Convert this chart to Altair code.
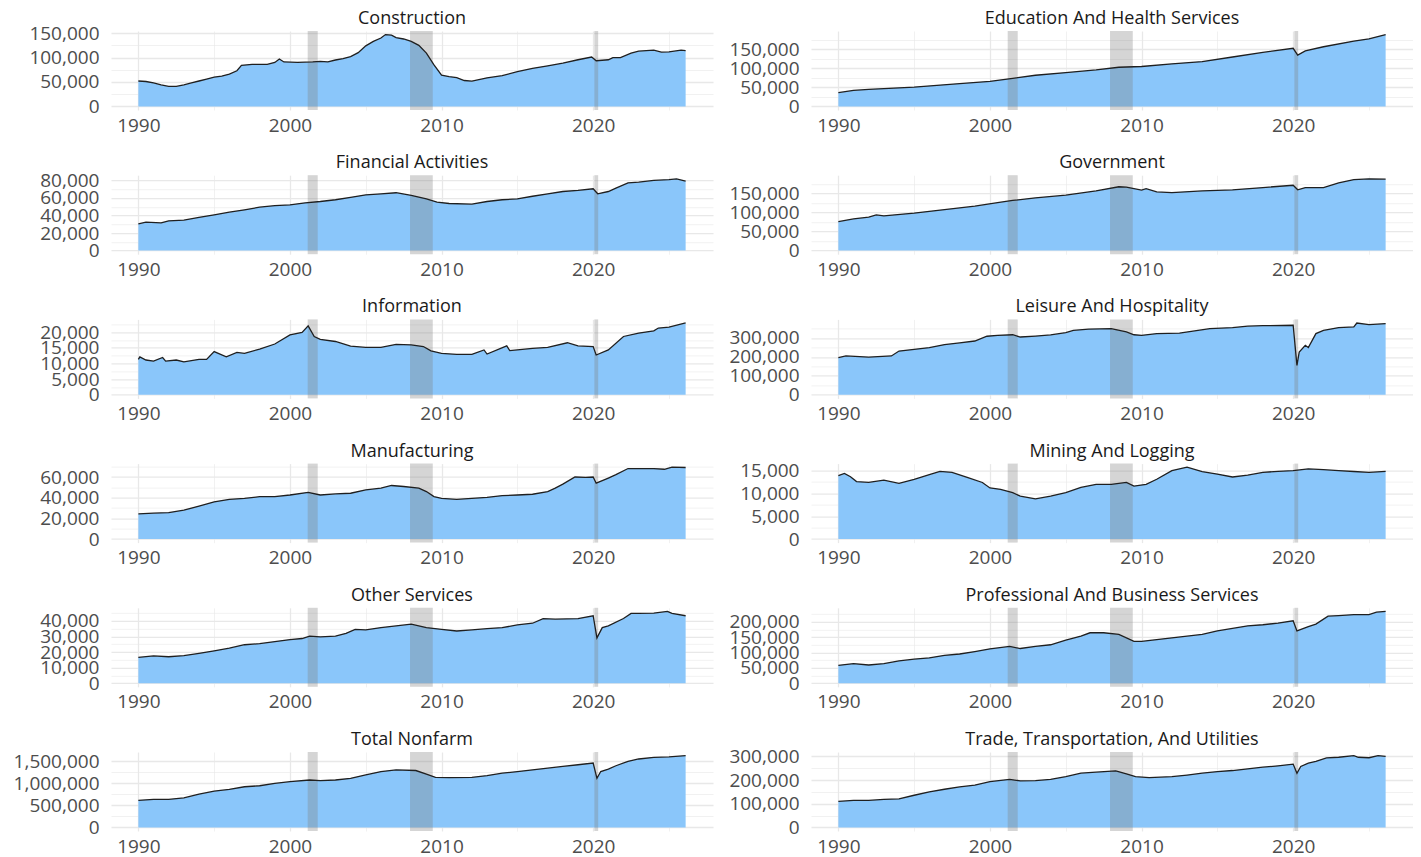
import altair as alt
import pandas as pd

# ---------------- data (decimal year, employees) ----------------
titles = [
    "Construction", "Education And Health Services",
    "Financial Activities", "Government",
    "Information", "Leisure And Hospitality",
    "Manufacturing", "Mining And Logging",
    "Other Services", "Professional And Business Services",
    "Total Nonfarm", "Trade, Transportation, And Utilities",
]

con_t = [1990.0, 1990.5, 1991.0, 1991.5, 1992.0, 1992.5, 1993.0, 1993.5, 1994.0, 1994.5, 1995.0, 1995.5,
         1996.0, 1996.5, 1996.8, 1997.5, 1998.0, 1998.5, 1999.0, 1999.3, 1999.6, 2000.5, 2001.5, 2002.0,
         2002.5, 2003.0, 2003.5, 2004.0, 2004.5, 2005.0, 2005.5, 2006.0, 2006.3, 2006.7, 2007.0, 2007.5,
         2008.0, 2008.5, 2009.0, 2009.5, 2010.0, 2010.5, 2011.0, 2011.5, 2012.0, 2013.0, 2014.0, 2015.0,
         2016.0, 2017.0, 2018.0, 2019.0, 2019.9, 2020.2, 2021.0, 2021.3, 2021.8, 2022.5, 2023.0, 2024.0,
         2024.5, 2025.0, 2025.8, 2026.1]
con_v = [52000, 51000, 48000, 44000, 41000, 41000, 44000, 48000, 52000, 56000, 60000, 62000,
         66000, 73000, 84000, 86000, 86000, 86000, 90000, 97000, 91000, 90000, 91000, 92000,
         91000, 95000, 98000, 102000, 110000, 124000, 133000, 140000, 147000, 146000, 141000, 138000,
         133000, 125000, 109000, 85000, 64000, 61000, 59000, 53000, 51600, 58600, 63000, 71000,
         78000, 83000, 88500, 95500, 101000, 93500, 95500, 100000, 99700, 109000, 113000, 115000,
         111000, 111500, 115000, 114000]

edu_t = [1990, 1991, 1992, 1995, 1998, 2000, 2001.5, 2003, 2005, 2007, 2008.5, 2010, 2012, 2014, 2016,
         2018, 2020.0, 2020.3, 2020.8, 2022, 2024, 2025, 2026.1]
edu_v = [36000, 42000, 45000, 51000, 60000, 66000, 74000, 82000, 89000, 96000, 103000, 105000, 112000,
         118000, 130000, 142000, 153000, 135000, 146000, 157000, 172000, 178000, 189000]

fin_t = [1990, 1990.5, 1991.5, 1992, 1993, 1994, 1995, 1996, 1997, 1998, 1999, 2000, 2001, 2002, 2003,
         2004, 2005, 2006, 2007, 2008, 2009, 2009.7, 2010.5, 2012, 2013, 2014, 2015, 2016, 2017, 2018,
         2019, 2020.0, 2020.3, 2021, 2021.5, 2022.3, 2023, 2024, 2025, 2025.5, 2026.1]
fin_v = [30500, 32400, 31600, 34000, 34700, 38000, 40800, 43800, 46500, 49500, 51400, 52200, 54500,
         56000, 58000, 60800, 63600, 64700, 66000, 63000, 59000, 55200, 53700, 53000, 56000, 58000,
         59000, 62000, 64800, 67400, 68600, 70500, 64800, 67400, 71200, 77300, 78000, 80000, 81000,
         81900, 79200]

gov_t = [1990, 1991, 1992, 1992.5, 1993, 1995, 1997, 1999, 2000.5, 2001.5, 2003, 2005, 2007, 2008.5,
         2009, 2010, 2010.3, 2011, 2012, 2014, 2016, 2018, 2020.0, 2020.3, 2020.8, 2022, 2023, 2024,
         2025, 2026.1]
gov_v = [76000, 83500, 88000, 94000, 91500, 98700, 108000, 117000, 126000, 132000, 139000, 146000,
         157000, 168000, 167000, 159000, 163000, 154500, 152700, 157000, 160000, 166000, 172000,
         160000, 166000, 166000, 178000, 187000, 189000, 188000]

inf_t = [1990.0, 1990.1, 1990.5, 1991, 1991.6, 1991.8, 1992.5, 1993, 1994, 1994.5, 1995, 1995.8, 1996.5,
         1997, 1998, 1999, 2000, 2000.8, 2001.2, 2001.6, 2002, 2003, 2004, 2005, 2006, 2007, 2008,
         2008.8, 2009.3, 2010, 2011, 2012, 2012.8, 2013, 2014.3, 2014.5, 2015, 2016, 2017, 2018.3,
         2019, 2020.0, 2020.2, 2021, 2022, 2023, 2024, 2024.3, 2025, 2026.1]
inf_v = [11300, 12100, 11100, 10750, 11900, 10750, 11100, 10500, 11300, 11300, 13800, 12100, 13500,
         13200, 14600, 16200, 19100, 19900, 22000, 18600, 17700, 17000, 15500, 15100, 15100, 16100,
         15900, 15400, 14000, 13200, 12900, 12900, 14300, 13000, 15600, 14100, 14300, 14800, 15100,
         16600, 15600, 15400, 12700, 14300, 18600, 19700, 20400, 21300, 21600, 22900]

lei_t = [1990, 1990.5, 1992, 1993.5, 1994, 1995, 1996, 1997, 1998, 1999, 1999.8, 2000.5, 2001.5, 2002,
         2003, 2004, 2005, 2005.5, 2006.5, 2008, 2009, 2009.5, 2010, 2011, 2012.5, 2013.5, 2014.5, 2016,
         2017, 2018, 2020.0, 2020.25, 2020.4, 2020.8, 2021, 2021.5, 2022, 2023, 2024, 2024.2, 2025, 2026.1]
lei_v = [196000, 205000, 199000, 205000, 231000, 240000, 249000, 265000, 274000, 284000, 309000,
         314000, 317000, 305000, 310000, 316000, 328000, 340000, 347000, 349000, 332000, 317000,
         314000, 323000, 326000, 337000, 349000, 355000, 362000, 365000, 367000, 155000, 226000,
         261000, 249000, 323000, 340000, 355000, 358000, 379000, 370000, 376000]

man_t = [1990, 1991, 1992, 1993, 1994, 1995, 1996, 1997, 1998, 1999, 2000, 2001.2, 2002, 2003, 2004,
         2005, 2006, 2006.7, 2007.5, 2008.5, 2009, 2009.5, 2010, 2011, 2012, 2013, 2014, 2015, 2016,
         2017, 2017.5, 2018, 2018.8, 2019.5, 2020.0, 2020.2, 2021, 2021.5, 2022.3, 2023, 2024, 2024.7,
         2025.2, 2026.1]
man_v = [24300, 25000, 25600, 27900, 31800, 36000, 38400, 39300, 41000, 41000, 42600, 45200, 42600,
         43600, 44300, 47500, 49200, 51800, 50800, 49200, 45900, 41000, 39300, 38400, 39300, 40300,
         42000, 42600, 43300, 45900, 49200, 53100, 60000, 59700, 60000, 54000, 59000, 62300, 68200,
         68200, 68200, 67500, 69500, 69200]

min_t = [1990, 1990.4, 1990.8, 1991.2, 1992, 1993, 1994, 1995, 1996, 1996.7, 1997.5, 1998.5, 1999.5,
         2000, 2000.7, 2001.5, 2002, 2003, 2004, 2005, 2006, 2007, 2008, 2009, 2009.5, 2010.3, 2011,
         2012, 2013, 2014, 2015, 2016, 2017, 2018, 2019, 2020, 2021, 2022, 2023, 2024, 2025, 2026.1]
min_v = [13900, 14400, 13650, 12600, 12400, 12900, 12200, 13100, 14100, 14850, 14600, 13500, 12400,
         11200, 10900, 10150, 9400, 8800, 9400, 10150, 11300, 12000, 12000, 12400, 11600, 12000,
         13100, 15000, 15750, 14800, 14250, 13600, 14000, 14600, 14850, 15000, 15400, 15200, 15000,
         14800, 14600, 14850]

oth_t = [1990, 1991, 1992, 1993, 1994, 1995, 1996, 1997, 1998, 1999, 2000, 2000.8, 2001.3, 2002, 2003,
         2003.7, 2004.3, 2005, 2006, 2007, 2008, 2009, 2010, 2011, 2012, 2013, 2014, 2015, 2016,
         2016.7, 2017.5, 2019, 2020.0, 2020.25, 2020.6, 2021, 2022, 2022.5, 2023, 2024, 2024.9, 2025.2,
         2026.1]
oth_v = [16600, 17500, 17000, 17700, 19200, 20800, 22500, 24700, 25400, 26700, 28000, 28700, 30200,
         29800, 30200, 32000, 34600, 34200, 35700, 36800, 37900, 35700, 34600, 33500, 34200, 35000,
         35700, 37400, 38500, 41500, 41100, 41500, 43300, 29100, 35700, 36800, 41500, 44800, 44800,
         45000, 46100, 44800, 43300]

pro_t = [1990, 1991, 1992, 1993, 1994, 1995, 1996, 1997, 1998, 1999, 2000, 2001.3, 2002, 2003, 2004,
         2005, 2006, 2006.6, 2007.5, 2008.5, 2009.5, 2010, 2011, 2012, 2013, 2014, 2015, 2016, 2017,
         2018, 2019, 2020.0, 2020.25, 2021, 2021.5, 2022.3, 2023, 2024, 2025, 2025.5, 2026.1]
pro_v = [58000, 63700, 59200, 63700, 72600, 78200, 82700, 90500, 95000, 102900, 111700, 119600, 112800,
         119600, 125000, 139700, 153000, 164000, 164000, 158700, 136000, 136000, 142000, 147500,
         153000, 158700, 170000, 178000, 186600, 190000, 195500, 203000, 170000, 184000, 192000,
         218000, 220000, 223000, 223000, 231000, 233500]

tot_t = [1990, 1991, 1992, 1993, 1994, 1995, 1996, 1997, 1998, 1999, 2000, 2001.3, 2002, 2003, 2004,
         2005, 2006, 2007, 2008.3, 2009, 2009.6, 2010.5, 2012, 2013, 2014, 2015, 2016, 2017, 2018, 2019,
         2020.0, 2020.25, 2020.5, 2021, 2021.5, 2022.3, 2023, 2024, 2025, 2026.1]
tot_v = [615000, 638000, 638000, 669000, 754000, 823000, 862000, 923000, 946000, 1000000, 1038000,
         1077000, 1062000, 1077000, 1115000, 1192000, 1269000, 1308000, 1292000, 1208000, 1138000,
         1131000, 1138000, 1177000, 1231000, 1269000, 1308000, 1346000, 1385000, 1423000, 1462000,
         1115000, 1269000, 1323000, 1400000, 1500000, 1554000, 1592000, 1600000, 1631000]

tra_t = [1990, 1991, 1992, 1993, 1994, 1995, 1996, 1997, 1998, 1999, 2000, 2001.3, 2002, 2003, 2004,
         2005, 2006, 2007, 2008.3, 2009, 2009.6, 2010.5, 2012, 2013, 2014, 2015, 2016, 2017, 2018, 2019,
         2020.0, 2020.25, 2020.5, 2021, 2021.5, 2022.2, 2023, 2024, 2024.3, 2025, 2025.6, 2026.1]
tra_v = [110000, 114000, 114000, 118600, 120000, 135700, 150000, 161000, 171000, 178600, 193000,
         203000, 196000, 197000, 203000, 214000, 228600, 233000, 238600, 226000, 214000, 210000,
         214000, 221000, 228600, 235700, 240000, 247000, 254000, 260000, 267000, 228600, 257000,
         271000, 278600, 293000, 296000, 303000, 296000, 294000, 303000, 300000]

series_t = [con_t, edu_t, fin_t, gov_t, inf_t, lei_t, man_t, min_t, oth_t, pro_t, tot_t, tra_t]
series_v = [con_v, edu_v, fin_v, gov_v, inf_v, lei_v, man_v, min_v, oth_v, pro_v, tot_v, tra_v]
major_steps = [50000, 50000, 20000, 50000, 5000, 100000, 20000, 5000, 10000, 50000, 500000, 100000]

rec_start = [2001.17, 2007.92, 2020.08]
rec_end = [2001.83, 2009.42, 2020.33]

# ---------------- styling ----------------
FONT = "Open Sans"
W, H = 602, 79
FILL = "#8AC6FA"
LINE = "#1f1f1f"
x_lo, x_hi = 1990.0, 2026.1
pad_x = 0.05 * (x_hi - x_lo)
XDOM = [x_lo - pad_x, x_hi + pad_x]

grid_w = alt.condition("datum.value % 10 !== 0", alt.value(0.6), alt.value(1.3))
x_axis = alt.Axis(
    values=[1990, 1995, 2000, 2005, 2010, 2015, 2020, 2025],
    labelExpr="datum.value % 10 === 0 ? format(datum.value, 'd') : ''",
    gridWidth=grid_w, gridColor="#e8e8e8",
    minExtent=26, maxExtent=26, labelPadding=6, labelFlush=False,
)
xscale = alt.Scale(domain=XDOM, nice=False, zero=False)
rec_df = pd.DataFrame({"start": rec_start, "end": rec_end})


def panel(title, t, v, step):
    df = pd.DataFrame({"year": t, "value": v})
    vmax = max(v)
    top = 1.05 * vmax
    vals = []
    k = 0
    while k * step / 2 <= top:
        vals.append(k * step / 2)
        k += 1
    y_axis = alt.Axis(
        values=vals,
        labelExpr=f"datum.value % {step} === 0 ? format(datum.value, ',') : ''",
        gridWidth=alt.condition(f"datum.value % {step} !== 0", alt.value(0.6), alt.value(1.3)),
        gridColor="#e8e8e8",
        minExtent=98, maxExtent=98, labelPadding=12, labelOverlap=False,
    )
    yscale = alt.Scale(domain=[-0.05 * vmax, top], nice=False, zero=False)
    x = alt.X("year:Q", scale=xscale, axis=x_axis, title=None)
    y = alt.Y("value:Q", scale=yscale, axis=y_axis, title=None)
    area = alt.Chart(df).mark_area(color=FILL, opacity=1).encode(x=x, y=y)
    rect = alt.Chart(rec_df).mark_rect(color="#7f7f7f", opacity=0.33).encode(
        x=alt.X("start:Q", scale=xscale, axis=x_axis, title=None),
        x2="end:Q",
        y=alt.value(0),
        y2=alt.value(H),
    )
    line = alt.Chart(df).mark_line(color=LINE, strokeWidth=1.3).encode(x=x, y=y)
    ttl = alt.Chart(pd.DataFrame({"t": [title]})).mark_text(
        font=FONT, fontSize=18, color="#1a1a1a", align="center", baseline="alphabetic"
    ).encode(x=alt.value(W / 2), y=alt.value(-7), text="t:N")
    return alt.layer(area, rect, line, ttl).properties(width=W, height=H)


panels = [panel(ti, t, v, s) for ti, t, v, s in zip(titles, series_t, series_v, major_steps)]

chart = alt.concat(*panels, columns=2, spacing={"row": 18.2, "column": 0}).properties(
    padding={"left": 5, "top": 2, "right": 0, "bottom": 0}
).configure_view(strokeWidth=0).configure_axis(
    labelFont=FONT, labelFontSize=19, labelColor="#4d4d4d",
    domain=False, ticks=False, tickSize=0,
)

chart.save("out.html", embed_options={"renderer": "svg", "actions": False})
